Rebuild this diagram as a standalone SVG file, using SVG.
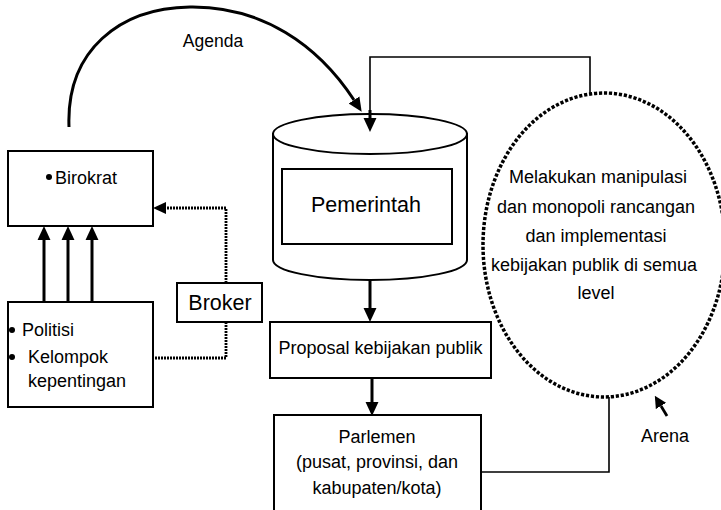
<svg xmlns="http://www.w3.org/2000/svg" width="721" height="510" viewBox="0 0 721 510">
<style>
text{font-family:"Liberation Sans",Arial,sans-serif;font-size:18px;fill:#000}
.c{text-anchor:middle}
.box{fill:#fff;stroke:#000;stroke-width:2}
.thick{fill:none;stroke:#000;stroke-width:3}
.thin{fill:none;stroke:#000;stroke-width:1.6}
.dot{fill:none;stroke:#000;stroke-width:2.8;stroke-dasharray:2 1}
.big{font-size:21.5px}
</style>
<defs>
<marker id="ah" markerUnits="userSpaceOnUse" markerWidth="14" markerHeight="14" refX="0" refY="6" orient="auto" viewBox="0 0 13 12">
<path d="M0,0 L13,6 L0,12 z" fill="#000"/>
</marker>
<marker id="ahs" markerUnits="userSpaceOnUse" markerWidth="12" markerHeight="12" refX="0" refY="5" orient="auto" viewBox="0 0 10 10">
<path d="M0,0 L10,5 L0,10 z" fill="#000"/>
</marker>
</defs>
<rect width="721" height="510" fill="#fff"/>

<g id="connectors">
<path class="thick" d="M69,127 C66,50 120,8 190,7 C262,6 318,45 354,100" marker-end="url(#ah)"/>
<text id="agenda-label" class="c" x="213" y="47" style="font-size:17.5px">Agenda</text>
<path class="thin" d="M590,93 L590,57 L370,57 L370,110"/>
<path class="thick" d="M44,302 L44,240" marker-end="url(#ah)"/>
<path class="thick" d="M68,302 L68,240" marker-end="url(#ah)"/>
<path class="thick" d="M92,302 L92,240" marker-end="url(#ah)"/>
<path class="dot" d="M226,283 L226,208 L166,208"/>
<path d="M166,202 L153,208 L166,214 z" fill="#000"/>
<path class="dot" d="M226,322 L226,358 L153,358"/>
<path class="thick" d="M370,280 L370,308" marker-end="url(#ah)"/>
<path class="thick" d="M372,378 L372,402" marker-end="url(#ah)"/>
<path class="thin" d="M481,472 L609,472 L609,397"/>
<path class="thick" d="M667,416 L661,406" style="stroke-width:2.8" marker-end="url(#ahs)"/>
<text id="arena-label" class="c" x="665" y="442">Arena</text>
</g>

<g id="birokrat">
<rect class="box" x="8" y="151" width="145" height="75"/>
<circle cx="49" cy="177" r="3"/>
<text x="55" y="184">Birokrat</text>
</g>

<g id="politisi">
<rect class="box" x="8" y="302" width="145" height="105"/>
<circle cx="12" cy="330" r="3"/>
<text x="22" y="336">Politisi</text>
<circle cx="12" cy="357" r="3"/>
<text x="28" y="363">Kelompok</text>
<text x="28" y="387">kepentingan</text>
</g>

<g id="broker">
<rect class="box" x="177" y="283" width="85" height="39"/>
<text class="c big" x="220" y="310">Broker</text>
</g>

<g id="pemerintah">
<path d="M273,134 L273,260 A97,20 0 0 0 467,260 L467,134 Z" fill="#fff" stroke="#000" stroke-width="2"/>
<ellipse cx="370" cy="134" rx="97" ry="20" fill="#fff" stroke="#000" stroke-width="2"/>
<path class="thick" d="M370,110 L370,118" marker-end="url(#ah)"/>
<rect class="box" x="282" y="169" width="170" height="75"/>
<text class="c big" x="366" y="212">Pemerintah</text>
</g>

<g id="proposal">
<rect class="box" x="270" y="322" width="221" height="56"/>
<text class="c" x="380.5" y="354">Proposal kebijakan publik</text>
</g>

<g id="parlemen">
<rect class="box" x="274" y="415" width="207" height="100"/>
<text class="c" x="377" y="443">Parlemen</text>
<text class="c" x="377" y="468">(pusat, provinsi, dan</text>
<text class="c" x="377" y="494">kabupaten/kota)</text>
</g>

<g id="arena">
<ellipse cx="604" cy="245" rx="121" ry="152" fill="none" stroke="#000" stroke-width="3.5" stroke-dasharray="3.2 1.8"/>
<text class="c" x="598" y="183">Melakukan manipulasi</text>
<text class="c" x="596" y="213">dan monopoli rancangan</text>
<text class="c" x="596" y="242">dan implementasi</text>
<text class="c" x="594" y="271">kebijakan publik di semua</text>
<text class="c" x="596" y="299">level</text>
</g>
</svg>
